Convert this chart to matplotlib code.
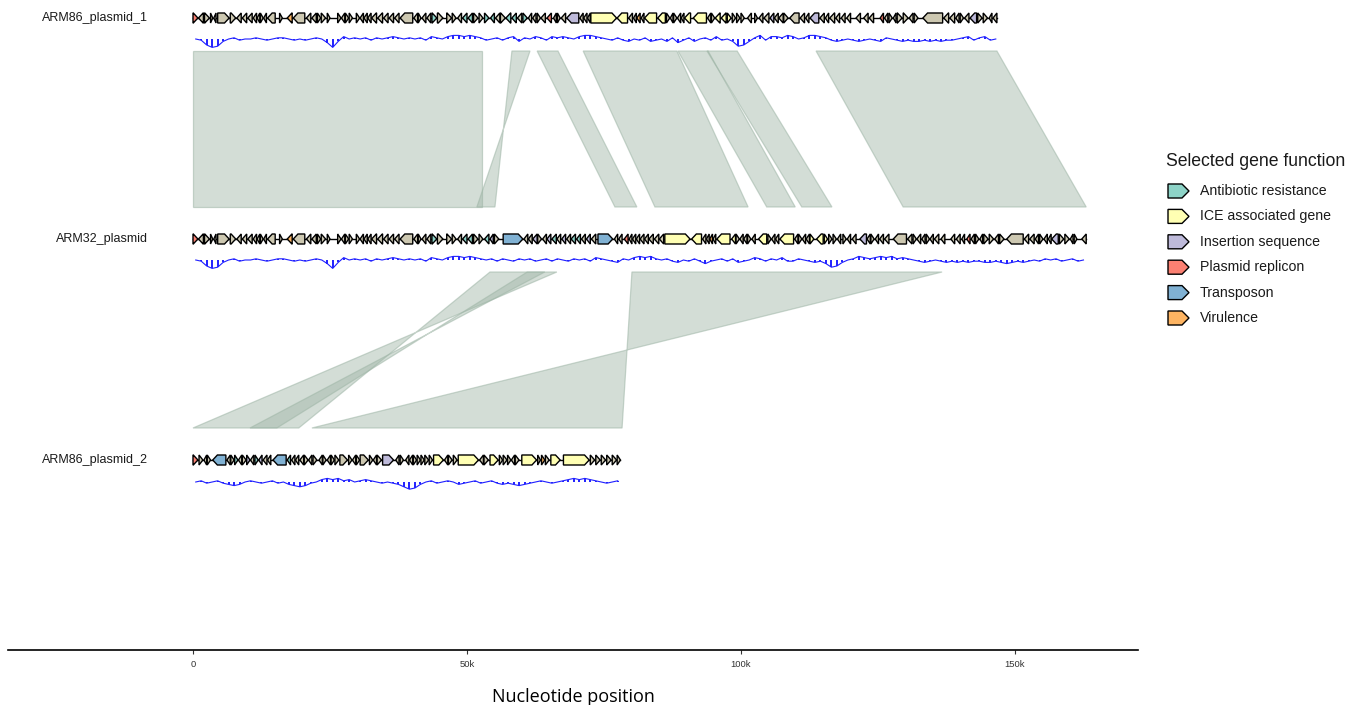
"""Plasmid synteny plot: ARM86 plasmids vs ARM32 plasmid (gggenomes style)."""
import matplotlib
matplotlib.use("Agg")
import matplotlib.pyplot as plt
from matplotlib.patches import Polygon
import numpy as np

# ---------------------------------------------------------------- data
track_names = ["ARM86_plasmid_1", "ARM32_plasmid", "ARM86_plasmid_2"]
track_lengths = [146.7, 163.0, 78.0]  # kb

categories = ["Antibiotic resistance", "ICE associated gene", "Insertion sequence",
              "Plasmid replicon", "Transposon", "Virulence"]
cat_codes = ["ab", "ice", "is", "rep", "tn", "vir"]
cat_colors = ["#8dd3c7", "#ffffb3", "#bebada", "#fb8072", "#80b1d3", "#fdb462"]
OTHER = "#cdc8b1"

# genes: (start kb, end kb, strand, category)
shared_genes = [  # first ~53 kb, identical in ARM86_plasmid_1 and ARM32_plasmid
    (0.0, 0.9, 1, "rep"), (1.0, 1.9, -1, "o"), (2.1, 3.0, 1, "o"), (3.2, 3.6, 1, "o"),
    (3.8, 4.2, -1, "o"), (4.5, 6.6, 1, "o"), (6.8, 7.8, 1, "o"), (8.0, 8.8, -1, "o"),
    (9.0, 9.8, -1, "o"), (10.0, 10.8, -1, "o"), (11.0, 11.6, -1, "o"), (11.7, 12.2, -1, "o"),
    (12.3, 12.8, 1, "o"), (12.9, 13.4, -1, "o"), (13.6, 15.0, -1, "o"), (15.8, 16.3, 1, "o"),
    (17.2, 18.1, -1, "vir"), (18.3, 20.4, -1, "o"), (20.7, 21.5, -1, "o"), (21.7, 22.5, -1, "o"),
    (22.7, 23.3, 1, "o"), (23.4, 24.2, 1, "o"), (24.5, 25.0, 1, "o"), (26.4, 27.0, 1, "o"),
    (27.1, 27.7, -1, "o"), (27.8, 28.4, 1, "o"), (28.5, 29.1, 1, "o"), (29.8, 30.4, 1, "o"),
    (30.5, 31.1, -1, "o"), (31.2, 31.8, -1, "o"), (31.9, 32.5, -1, "o"), (32.6, 33.5, -1, "o"),
    (33.7, 34.6, -1, "o"), (34.8, 35.6, -1, "o"), (35.8, 36.6, -1, "o"), (36.8, 37.6, -1, "o"),
    (37.8, 40.1, -1, "o"), (40.3, 41.0, -1, "o"), (41.1, 41.6, 1, "o"), (41.8, 42.5, -1, "o"),
    (42.7, 43.4, -1, "o"), (43.6, 44.5, 1, "ab"), (44.6, 45.6, 1, "o"), (46.3, 47.2, 1, "o"),
    (47.3, 48.0, 1, "o"), (48.3, 49.0, -1, "o"), (49.2, 50.0, -1, "ab"), (50.2, 51.0, -1, "ab"),
    (51.2, 52.0, 1, "o"), (52.2, 52.9, 1, "o"),
]
p1_genes_rest = [
    (53.2, 54.0, 1, "ab"), (54.3, 55.0, -1, "ab"), (55.2, 56.0, -1, "o"), (56.1, 57.0, 1, "o"),
    (57.1, 58.0, -1, "ab"), (58.2, 59.0, -1, "ab"), (59.2, 60.0, -1, "o"), (60.2, 61.0, 1, "ab"),
    (61.2, 61.8, -1, "o"), (62.0, 62.6, -1, "o"), (62.8, 63.4, 1, "o"), (63.5, 64.3, -1, "o"),
    (64.6, 65.4, -1, "rep"), (65.8, 66.3, -1, "o"), (66.5, 67.0, 1, "o"), (67.2, 68.0, -1, "o"),
    (68.2, 70.4, -1, "is"), (70.6, 71.2, -1, "o"), (71.3, 71.9, -1, "o"), (72.0, 72.5, -1, "o"),
    (72.6, 77.3, 1, "ice"), (77.4, 79.3, -1, "ice"), (79.5, 80.2, -1, "o"), (80.4, 80.9, -1, "o"),
    (81.0, 81.6, -1, "vir"), (81.8, 82.3, -1, "o"), (82.4, 84.6, -1, "ice"), (84.8, 86.2, -1, "ice"),
    (86.4, 87.0, 1, "o"), (87.1, 87.6, -1, "o"), (87.7, 88.3, 1, "o"), (88.4, 89.0, -1, "o"),
    (89.1, 89.6, -1, "o"), (89.7, 90.8, -1, "ice"), (91.3, 93.7, -1, "ice"), (93.9, 94.5, -1, "o"),
    (94.6, 95.2, 1, "o"), (95.3, 96.2, -1, "ice"), (96.4, 97.3, -1, "ice"), (97.5, 98.2, 1, "ice"),
    (98.4, 99.0, 1, "o"), (99.2, 99.8, 1, "o"), (100.0, 100.6, 1, "o"), (101.2, 101.9, -1, "o"),
    (102.5, 103.0, 1, "o"), (103.3, 104.0, -1, "o"), (104.2, 105.1, -1, "o"), (105.3, 106.0, -1, "is"),
    (106.1, 106.8, -1, "o"), (106.9, 107.7, -1, "o"), (107.8, 108.6, 1, "o"), (108.9, 110.6, -1, "o"),
    (110.8, 111.6, -1, "o"), (111.8, 112.4, -1, "o"), (112.6, 114.2, -1, "is"), (114.4, 115.2, -1, "o"),
    (115.4, 116.0, -1, "o"), (116.2, 117.1, -1, "o"), (117.3, 118.0, -1, "o"), (118.3, 119.0, -1, "o"),
    (119.3, 120.0, -1, "o"), (121.0, 121.8, -1, "o"), (122.4, 123.2, -1, "o"), (123.4, 124.2, -1, "o"),
    (125.4, 126.0, -1, "rep"), (126.2, 126.8, -1, "o"), (127.0, 127.6, 1, "o"), (127.8, 128.3, -1, "o"),
    (128.5, 129.4, 1, "o"), (129.6, 130.5, 1, "o"), (130.7, 131.4, -1, "o"), (131.6, 132.3, 1, "o"),
    (133.2, 136.8, -1, "o"), (137.0, 137.9, -1, "o"), (138.1, 139.0, -1, "o"), (139.2, 139.8, -1, "o"),
    (140.0, 140.6, 1, "o"), (140.8, 141.6, -1, "o"), (141.8, 143.0, -1, "is"), (143.2, 144.0, 1, "o"),
    (144.2, 145.0, 1, "o"), (145.3, 145.8, -1, "o"), (146.0, 146.7, -1, "o"),
]
arm32_genes_rest = [
    (53.2, 54.0, -1, "ab"), (54.2, 54.8, -1, "is"), (55.0, 55.8, 1, "o"), (56.6, 60.2, 1, "tn"),
    (60.4, 61.1, -1, "o"), (61.2, 61.9, -1, "o"), (62.0, 62.8, -1, "is"), (62.9, 63.6, 1, "o"),
    (63.8, 64.5, -1, "o"), (64.6, 65.3, -1, "is"), (65.5, 66.3, -1, "ab"), (66.4, 67.1, -1, "o"),
    (67.3, 68.0, -1, "is"), (68.2, 68.9, -1, "o"), (69.0, 69.8, -1, "ab"), (70.0, 70.7, -1, "ab"),
    (70.9, 71.6, -1, "o"), (71.8, 72.5, -1, "is"), (72.7, 73.5, -1, "o"), (73.9, 76.6, 1, "tn"),
    (76.9, 77.5, -1, "o"), (77.7, 78.3, -1, "o"), (78.7, 79.4, -1, "rep"), (79.6, 80.1, -1, "o"),
    (80.2, 80.8, -1, "o"), (80.9, 81.5, -1, "o"), (81.6, 82.3, -1, "o"), (82.4, 83.1, -1, "o"),
    (83.2, 84.0, -1, "o"), (84.2, 85.0, -1, "o"), (85.1, 85.9, -1, "o"), (86.1, 90.7, 1, "ice"),
    (91.0, 92.8, -1, "ice"), (93.0, 93.6, -1, "o"), (93.7, 94.2, -1, "o"), (94.3, 94.8, -1, "vir"),
    (94.9, 95.4, -1, "o"), (95.6, 98.0, -1, "ice"), (98.3, 99.0, -1, "ice"), (99.1, 99.7, 1, "o"),
    (99.8, 100.4, -1, "o"), (100.5, 101.1, -1, "o"), (101.2, 101.8, 1, "o"), (102.0, 102.6, -1, "o"),
    (103.2, 104.7, -1, "ice"), (104.9, 105.5, 1, "o"), (105.6, 106.2, -1, "o"), (106.3, 106.9, -1, "o"),
    (107.1, 109.6, -1, "ice"), (109.8, 110.4, -1, "o"), (110.5, 111.1, 1, "o"), (111.2, 111.8, -1, "o"),
    (111.9, 112.5, -1, "o"), (112.6, 113.3, 1, "ice"), (113.8, 115.0, -1, "ice"), (115.2, 115.8, 1, "ice"),
    (116.0, 116.6, 1, "o"), (116.8, 117.4, 1, "o"), (117.6, 118.2, -1, "o"), (118.6, 119.2, 1, "o"),
    (119.4, 120.0, -1, "o"), (120.3, 121.0, -1, "o"), (121.7, 122.9, -1, "is"), (123.0, 123.6, -1, "o"),
    (123.7, 124.3, 1, "o"), (124.5, 125.1, -1, "o"), (125.3, 126.0, -1, "o"), (126.2, 127.0, -1, "o"),
    (127.8, 130.2, -1, "o"), (130.4, 131.2, -1, "o"), (131.4, 132.0, 1, "o"), (132.1, 132.8, -1, "o"),
    (133.0, 133.6, -1, "o"), (133.8, 134.4, 1, "o"), (134.5, 135.1, -1, "o"), (135.3, 136.1, -1, "o"),
    (136.5, 137.2, -1, "o"), (138.3, 139.0, -1, "o"), (139.3, 140.0, -1, "o"), (140.3, 140.8, -1, "o"),
    (141.2, 141.8, -1, "rep"), (142.0, 142.6, -1, "o"), (142.8, 143.4, 1, "o"), (143.6, 144.1, -1, "o"),
    (144.3, 145.1, 1, "o"), (145.3, 146.1, 1, "o"), (146.3, 147.0, -1, "o"), (147.2, 148.0, 1, "o"),
    (148.5, 151.5, -1, "o"), (151.7, 152.5, -1, "o"), (152.7, 153.5, -1, "o"), (153.7, 154.3, -1, "o"),
    (154.5, 155.1, 1, "o"), (155.3, 155.9, -1, "o"), (156.1, 156.6, -1, "o"), (156.7, 157.9, -1, "is"),
    (158.1, 158.9, 1, "o"), (159.1, 159.9, 1, "o"), (160.1, 160.6, -1, "o"), (160.8, 161.3, 1, "o"),
    (162.2, 163.0, -1, "o"),
]
p2_genes = [
    (0.0, 0.9, 1, "rep"), (1.1, 1.8, 1, "o"), (2.0, 2.5, -1, "o"), (2.6, 3.2, 1, "o"),
    (3.6, 6.0, -1, "tn"), (6.2, 6.8, -1, "o"), (6.9, 7.5, 1, "o"), (7.6, 8.2, 1, "ab"),
    (8.3, 8.9, -1, "o"), (9.0, 9.7, 1, "o"), (9.8, 10.4, 1, "is"), (10.5, 11.1, -1, "o"),
    (11.3, 11.9, 1, "ab"), (12.0, 12.6, -1, "is"), (12.8, 13.5, -1, "o"), (13.6, 14.2, -1, "o"),
    (14.6, 17.0, -1, "tn"), (17.2, 17.8, -1, "ab"), (18.0, 18.6, -1, "o"), (18.7, 19.3, -1, "o"),
    (19.5, 20.2, -1, "o"), (20.3, 21.0, 1, "o"), (21.1, 21.7, -1, "o"), (21.9, 22.6, 1, "o"),
    (23.0, 23.6, -1, "o"), (23.7, 24.3, 1, "o"), (24.5, 25.1, -1, "o"), (25.2, 25.8, 1, "o"),
    (25.9, 26.6, 1, "o"), (26.8, 28.2, 1, "o"), (28.4, 29.0, 1, "o"), (29.1, 29.7, -1, "o"),
    (29.8, 30.4, 1, "o"), (30.5, 32.0, 1, "o"), (32.2, 32.8, 1, "o"), (32.9, 33.5, -1, "o"),
    (33.6, 34.4, 1, "o"), (34.6, 36.6, 1, "is"), (37.0, 37.6, -1, "o"), (37.8, 38.4, 1, "o"),
    (38.8, 39.4, -1, "o"), (39.5, 40.1, -1, "o"), (40.2, 40.8, 1, "o"), (40.9, 41.5, 1, "o"),
    (41.6, 42.2, 1, "o"), (42.3, 43.0, 1, "o"), (43.1, 43.7, 1, "o"), (43.9, 45.7, 1, "ice"),
    (45.9, 46.5, -1, "o"), (46.6, 47.3, 1, "o"), (47.5, 48.2, 1, "o"), (48.4, 52.1, 1, "ice"),
    (52.3, 53.0, -1, "o"), (53.1, 53.9, 1, "o"), (54.2, 55.7, 1, "ice"), (55.9, 56.5, 1, "o"),
    (56.6, 57.3, 1, "o"), (57.4, 58.0, 1, "o"), (58.1, 58.7, -1, "o"), (58.8, 59.5, 1, "o"),
    (60.0, 62.7, 1, "ice"), (62.9, 63.4, 1, "o"), (63.6, 64.2, 1, "vir"), (64.3, 65.0, 1, "o"),
    (65.3, 67.0, 1, "ice"), (67.6, 72.3, 1, "ice"), (72.5, 73.3, 1, "o"), (73.5, 74.3, 1, "o"),
    (74.5, 75.3, 1, "o"), (75.5, 76.3, 1, "o"), (76.5, 77.3, 1, "o"), (77.4, 78.0, 1, "o"),
]

# GC wiggle, 1 kb windows, deviation from mean (pixels; negative = dip)
gc_shared = [0, -1, -5, -7, -6, -2, 0, 1, -1, 0, 0, 1, 0, -1, 0, 1, 1, 0, -1, 0,
             -1, 0, 1, 0, -3, -7, -2, 2, 0, 1, 0, 1, -1, 1, 0, 1, 2, 1, 0, 1,
             0, 1, -1, 2, 1, 0, 2, 3, 3, 2, 3, 2, 1]
gc_p1_rest = [-1, 0, 1, -1, 1, 2, -2,
              1, 0, 2, 1, -1, 2, 1, 2, 1, 0, 2, 3, 3, 2, 1, 0, -1, 1, -1, -2,
              0, -1, 1, -2, -1, 0, -2, 1, -3, -1, 1, -2, 0, 1, -1, 2, -1, 0, -2, -6,
              -5, -2, 1, 3, -1, 2, 2, 1, 3, 2, 0, 1, 3, 3, 2, 1, -1, -2, -1, 0,
              -1, -2, -1, 0, -1, -2, 1, 0, -1, -2, -1, -2, -2, -1, -2, -1, -2, -1, -1, 0,
              1, 2, -1, 1, 2, -1, 0]
gc_arm32_rest = [0, 1, -1, 1, 0, -1, 1,
                 0, 1, -1, 0, 1, -1, 1, 0, -1, 1, 0, 1, -1, 2, 1, 0, -1, -2, 1, 0,
                 2, 3, 2, 3, 1, 0, 1, -1, -2, 0, -1, 1, -1, -3, -1, 0, 1, -1, 1, -2,
                 -1, 0, 2, 1, -1, 1, 0, 2, -1, -1, 1, 0, -1, -2, -1, -3, -6, -5, -2, 0,
                 1, 3, 2, 1, 2, 3, 2, 3, 1, 2, 1, 0, -1, -2, -1, 0, -1, -2, -1, -2,
                 -1, -2, -1, -1, -2, -2, -1, -2, -3, -2, -1, -2, -1, 0, -1, 1, 0, 1, -1, 0,
                 1, -1, 0]
gc_p2 = [0, 1, -1, 0, 1, -1, -2, -3, -2, 0, 1, 0, -1, 0, 1, -1, 0, -2, -3, -4,
         -3, -1, 0, 2, 3, 2, 3, 1, 2, 0, 1, 2, 1, 0, -1, 0, -1, -2, -4, -6,
         -5, -2, 0, 1, -1, 0, 1, 0, -2, -1, 0, 1, -1, 0, 1, -1, -2, -1, -2, -3,
         -2, -1, 0, 1, 0, -1, 0, 1, 2, 3, 2, 3, 2, 1, 0, -1, 0, 1]

# synteny links, kb: ARM86_plasmid_1 (top) -> ARM32_plasmid (bottom)
l1_top_start = [0.0, 58.2, 62.8, 71.2, 88.5, 93.8, 113.7]
l1_top_end = [52.7, 61.5, 66.6, 88.3, 94.0, 99.3, 146.7]
l1_bot_start = [0.0, 51.8, 77.0, 84.3, 104.7, 111.1, 129.6]
l1_bot_end = [52.7, 55.1, 81.0, 101.3, 109.9, 116.6, 163.0]
l1_inverted = [False, True, False, False, False, False, False]
# ARM32_plasmid (top) -> ARM86_plasmid_2 (bottom)
l2_top_start = [54.2, 61.0, 80.1]
l2_top_end = [66.4, 64.2, 136.7]
l2_bot_start = [0.0, 10.4, 21.7]
l2_bot_end = [19.3, 15.3, 78.3]
l2_inverted = [True, True, True]

# ---------------------------------------------------------------- layout (px rows)
W, H = 1361, 705
GENE_Y = [18, 239, 460]
GC_Y = [39, 260, 482]
LINK_Y = [(51, 207), (272, 428)]
color_of = dict(zip(cat_codes, cat_colors))


def gene_poly(s, e, strand, yc, h=5.0, head=0.85):
    hl = min(head, e - s)
    if strand > 0:
        return [(s, yc - h), (e - hl, yc - h), (e, yc), (e - hl, yc + h), (s, yc + h)]
    return [(e, yc - h), (s + hl, yc - h), (s, yc), (s + hl, yc + h), (e, yc + h)]


def draw_track(ax, genes, length, yc):
    ax.plot([0, length], [yc, yc], color="black", lw=1.0, zorder=2)
    for s, e, strand, cat in genes:
        ax.add_patch(Polygon(gene_poly(s, e, strand, yc), closed=True,
                             fc=color_of.get(cat, OTHER), ec="black", lw=1.0,
                             joinstyle="miter", zorder=3))


def draw_gc(ax, gc, yg):
    gc = 1.2 * np.asarray(gc, dtype=float)
    xs = np.arange(len(gc)) + 0.5
    ax.plot(xs, yg - gc, color="#2020ff", lw=0.8, zorder=2)
    ax.vlines(xs, yg, yg - gc, color="#2020ff", lw=1.4, zorder=2)


def draw_links(ax, ts, te, bs, be, inv, y0, y1):
    fc = (0.62, 0.71, 0.65, 0.45)
    ec = (0.62, 0.71, 0.65, 0.55)
    for a, b, c, d, flip in zip(ts, te, bs, be, inv):
        pts = [(a, y0), (b, y0), (c, y1), (d, y1)] if flip else \
              [(a, y0), (b, y0), (d, y1), (c, y1)]
        ax.add_patch(Polygon(pts, closed=True, fc=fc, ec=ec, lw=0.9, zorder=1))


fig = plt.figure(figsize=(W / 100, H / 100), dpi=100)
ax = fig.add_axes([8 / W, 55 / H, 1130 / W, 650 / H])
ax.set_xlim(-33.76, 172.45)
ax.set_ylim(650, 0)

genes_all = [shared_genes + p1_genes_rest, shared_genes + arm32_genes_rest, p2_genes]
gc_all = [gc_shared + gc_p1_rest, gc_shared + gc_arm32_rest, gc_p2]
for name, genes, length, gc, yc, yg in zip(track_names, genes_all, track_lengths,
                                            gc_all, GENE_Y, GC_Y):
    draw_track(ax, genes, length, yc)
    draw_gc(ax, gc, yg)
    ax.text(-8.2, yc, name, ha="right", va="center", fontsize=9,
            family="Liberation Sans", color="#1a1a1a")

draw_links(ax, l1_top_start, l1_top_end, l1_bot_start, l1_bot_end, l1_inverted, *LINK_Y[0])
draw_links(ax, l2_top_start, l2_top_end, l2_bot_start, l2_bot_end, l2_inverted, *LINK_Y[1])

for side in ["top", "right", "left"]:
    ax.spines[side].set_visible(False)
ax.spines["bottom"].set_linewidth(1.2)
ax.set_yticks([])
ax.set_xticks([0, 50, 100, 150])
ax.set_xticklabels(["0", "50k", "100k", "150k"], fontsize=6.8,
                   family="Liberation Sans", color="#333333")
ax.tick_params(axis="x", length=3, width=0.8, color="#333333", pad=4)
ax.set_xlabel("Nucleotide position", fontsize=13, family="Open Sans", labelpad=14)

# legend drawn in pixel space
lg = fig.add_axes([0, 0, 1, 1])
lg.set_xlim(0, W)
lg.set_ylim(H, 0)
lg.axis("off")
lg.text(1166, 161, "Selected gene function", ha="left", va="center",
        fontsize=12.7, family="Liberation Sans", color="#1a1a1a")
for i, (lab, col) in enumerate(zip(categories, cat_colors)):
    yc = 191 + i * 25.4
    key = [(1168, yc - 7), (1182, yc - 7), (1189, yc), (1182, yc + 7), (1168, yc + 7)]
    lg.add_patch(Polygon(key, closed=True, fc=col, ec="black", lw=1.0))
    lg.text(1200, yc, lab, ha="left", va="center", fontsize=10.2,
            family="Liberation Sans", color="#1a1a1a")

fig.savefig("out.png", dpi=100)
